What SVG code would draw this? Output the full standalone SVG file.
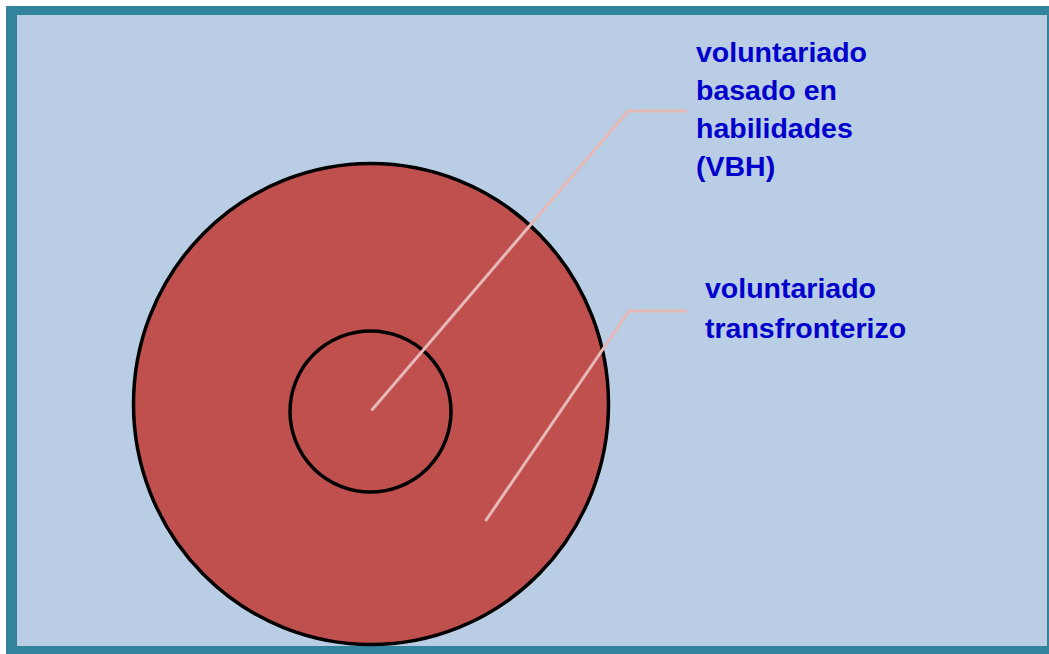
<svg xmlns="http://www.w3.org/2000/svg" width="1049" height="654" viewBox="0 0 1049 654">
<style>
.lbl{font-family:"Liberation Sans",Arial,sans-serif;font-weight:bold;font-size:28.5px;fill:#0000CC}
.ring{fill:#C0504D;stroke:#000;}
.lead{fill:none;stroke:#E6B9B8;stroke-width:3}
</style>
<rect x="0" y="0" width="1049" height="654" fill="#FFFFFF"/>
<rect x="6" y="6" width="1043" height="648" fill="#31849B"/>
<rect x="17" y="15" width="1030" height="631" fill="#B9CDE5"/>
<g id="outer">
<ellipse class="ring" cx="371" cy="404" rx="237.5" ry="240.5" stroke-width="3.5"/>
</g>
<g id="inner">
<ellipse class="ring" cx="370.5" cy="411.5" rx="80.5" ry="80.5" stroke-width="3.5"/>
</g>
<g id="connectors">
<polyline class="lead" points="371.5,410.5 628,111 687,111"/>
<polyline class="lead" points="485.5,521 629,311 687,311"/>
</g>
<g id="label-vbh">
<text class="lbl" x="696" y="62">voluntariado</text>
<text class="lbl" x="696" y="100">basado en</text>
<text class="lbl" x="696" y="138">habilidades</text>
<text class="lbl" x="696" y="176">(VBH)</text>
</g>
<g id="label-transfronterizo">
<text class="lbl" x="705" y="298">voluntariado</text>
<text class="lbl" x="705" y="338">transfronterizo</text>
</g>
</svg>
